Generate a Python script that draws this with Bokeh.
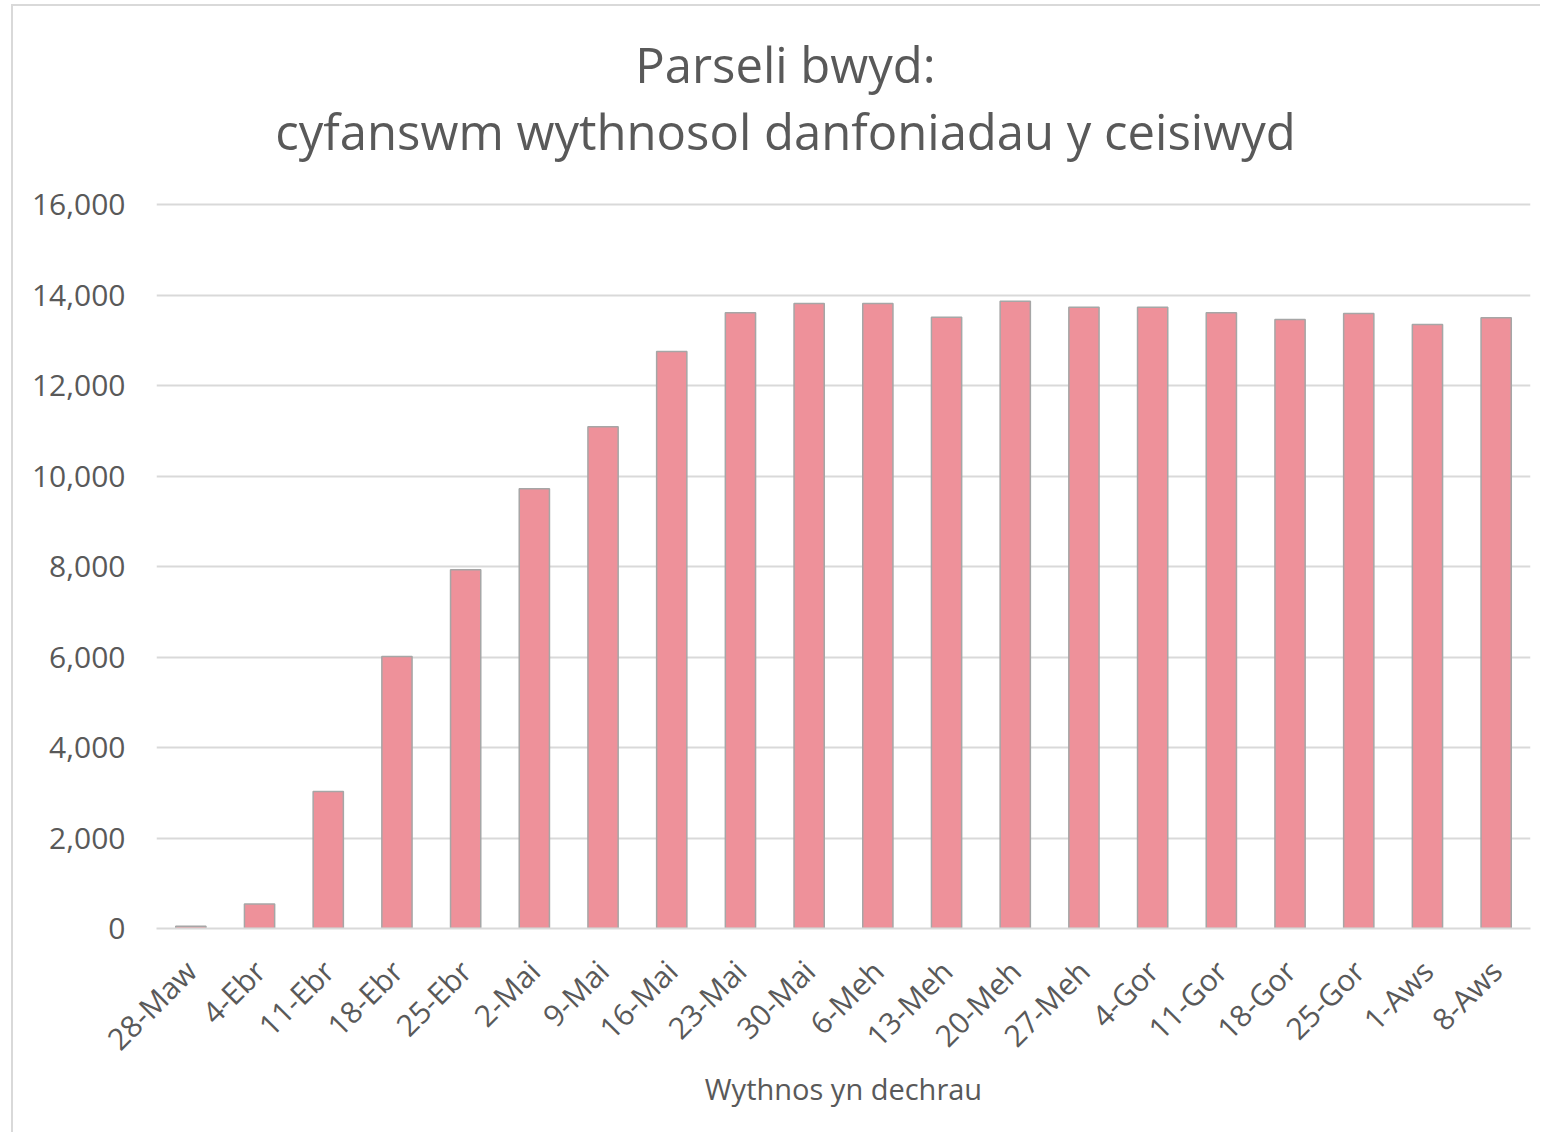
import math
from bokeh.plotting import figure
from bokeh.models import Label, NumeralTickFormatter, FixedTicker, ColumnDataSource
from bokeh.embed import file_html
from bokeh.resources import INLINE

weeks = ["28-Maw", "4-Ebr", "11-Ebr", "18-Ebr", "25-Ebr", "2-Mai", "9-Mai", "16-Mai",
         "23-Mai", "30-Mai", "6-Meh", "13-Meh", "20-Meh", "27-Meh", "4-Gor", "11-Gor",
         "18-Gor", "25-Gor", "1-Aws", "8-Aws"]
parcels = [50, 540, 3030, 6010, 7930, 9720, 11090, 12750,
           13610, 13810, 13810, 13510, 13860, 13730, 13730, 13610,
           13460, 13590, 13350, 13500]
y_ticks = [0, 2000, 4000, 6000, 8000, 10000, 12000, 14000, 16000]

title_line1 = "Parseli bwyd:"
title_line2 = "cyfanswm wythnosol danfoniadau y ceisiwyd"
x_label = "Wythnos yn dechrau"

FONT = "Open Sans"
GREY = "#595959"

# layout (pixels)
W, H = 1529, 1128
B_LEFT, B_RIGHT, B_TOP, B_BOTTOM = 143, 12, 13, 206
FRAME_H = H - B_TOP - B_BOTTOM          # frame extends up to hold the title
AXIS_PX = 724                           # pixel height of the 0..16000 value axis
y_end = y_ticks[-1] * FRAME_H / AXIS_PX

src = ColumnDataSource(data=dict(weeks=weeks, parcels=parcels))

p = figure(x_range=weeks, y_range=(0, y_end), width=W, height=H,
           output_backend="svg", toolbar_location=None,
           min_border_left=B_LEFT, min_border_right=B_RIGHT,
           min_border_bottom=B_BOTTOM, min_border_top=B_TOP)
p.title = None

p.vbar(x="weeks", top="parcels", width=0.44, source=src,
       fill_color="#ee919a", line_color="#a6a6a6", line_width=1.5)

# two-line title, placed in screen units relative to the plot frame
t1 = Label(x=629, y=AXIS_PX + 141, x_units="screen", y_units="screen", text=title_line1,
           text_font=FONT, text_font_size="49px", text_color=GREY,
           text_align="center", text_baseline="middle")
t2 = Label(x=629, y=AXIS_PX + 74, x_units="screen", y_units="screen", text=title_line2,
           text_font=FONT, text_font_size="49px", text_color=GREY,
           text_align="center", text_baseline="middle")
p.add_layout(t1)
p.add_layout(t2)

p.outline_line_color = None
p.background_fill_color = "white"
p.border_fill_color = "white"

# grid
p.xgrid.grid_line_color = None
p.ygrid.grid_line_color = "#d9d9d9"
p.ygrid.grid_line_width = 2
p.yaxis.ticker = FixedTicker(ticks=y_ticks)

# y axis
p.yaxis.formatter = NumeralTickFormatter(format="0,0")
p.yaxis.axis_line_color = None
p.yaxis.major_tick_line_color = None
p.yaxis.minor_tick_line_color = None
p.yaxis.major_label_text_font = FONT
p.yaxis.major_label_text_font_size = "30px"
p.yaxis.major_label_text_color = GREY
p.yaxis.major_label_standoff = 25

# x axis
p.xaxis.axis_line_color = "#d9d9d9"
p.xaxis.axis_line_width = 2
p.xaxis.major_tick_line_color = None
p.xaxis.major_label_orientation = math.pi / 4
p.xaxis.major_label_text_font = FONT
p.xaxis.major_label_text_font_size = "30px"
p.xaxis.major_label_text_color = GREY
p.xaxis.major_label_standoff = 31
p.xaxis.axis_label = x_label
p.xaxis.axis_label_text_font = FONT
p.xaxis.axis_label_text_font_size = "29px"
p.xaxis.axis_label_text_font_style = "normal"
p.xaxis.axis_label_text_color = GREY
p.xaxis.axis_label_standoff = -7

p.styles = {"margin-left": "11px", "margin-top": "4px",
            "border-left": "2px solid #d9d9d9", "border-top": "2px solid #d9d9d9"}

open("out.html", "w").write(file_html(p, INLINE))
